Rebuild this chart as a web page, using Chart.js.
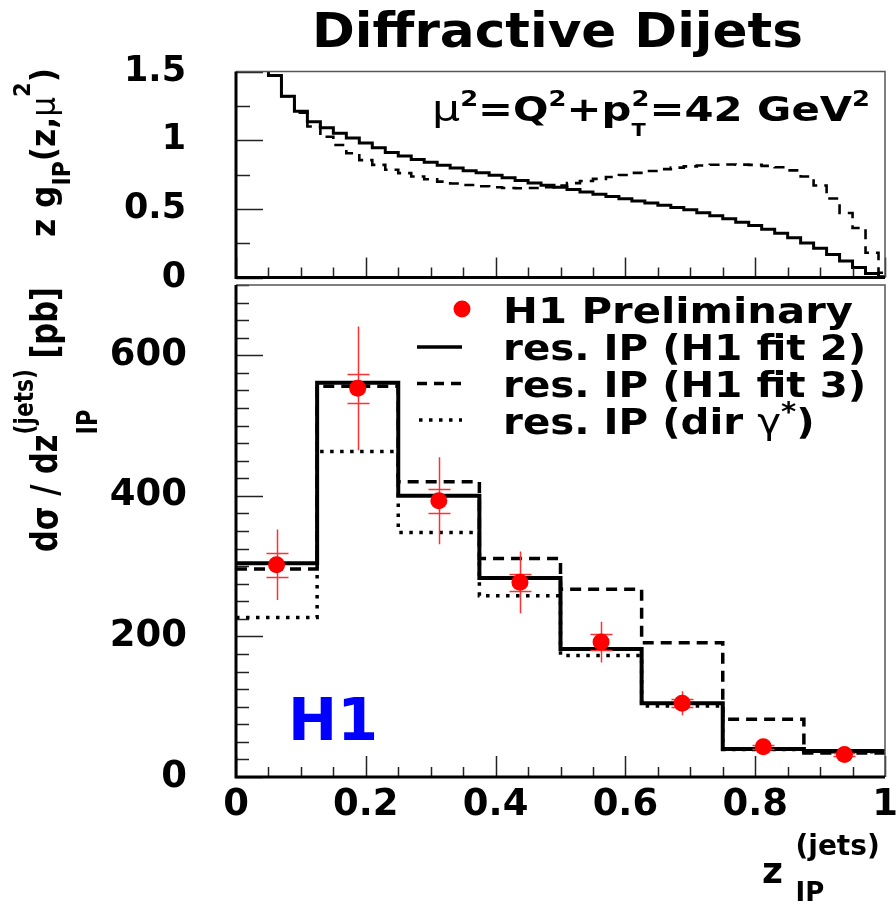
<!DOCTYPE html>
<html>
<head>
<meta charset="utf-8">
<script src="https://cdn.jsdelivr.net/npm/chart.js@4.4.1/dist/chart.umd.min.js"></script>
<style>
  html, body { margin: 0; padding: 0; background: #fff; }
  #wrap { position: relative; width: 896px; height: 904px; }
  #wrap canvas { position: absolute; left: 0; top: 0; }
</style>
</head>
<body>
<div id="wrap">
  <canvas id="top-chart" width="896" height="904"></canvas>
  <canvas id="bottom-chart" width="896" height="904"></canvas>
</div>
<script>
// ===== upper panel: z g_IP(z, mu^2) =====
const zGrid = [0.04, 0.06, 0.08, 0.10, 0.12, 0.14, 0.16, 0.18, 0.20, 0.22,
               0.24, 0.26, 0.28, 0.30, 0.32, 0.34, 0.36, 0.38, 0.40, 0.42,
               0.44, 0.46, 0.48, 0.50, 0.52, 0.54, 0.56, 0.58, 0.60, 0.62,
               0.64, 0.66, 0.68, 0.70, 0.72, 0.74, 0.76, 0.78, 0.80, 0.82,
               0.84, 0.86, 0.88, 0.90, 0.92, 0.94, 0.96, 0.98, 1.00];
const gluonFit2 = [1.62, 1.47, 1.32, 1.21, 1.135, 1.09, 1.05, 1.015, 0.98, 0.945,
                   0.91, 0.885, 0.86, 0.84, 0.818, 0.797, 0.778, 0.762, 0.745, 0.727,
                   0.707, 0.688, 0.672, 0.658, 0.64, 0.622, 0.606, 0.59, 0.573, 0.557,
                   0.542, 0.526, 0.51, 0.493, 0.472, 0.45, 0.427, 0.403, 0.379, 0.352,
                   0.323, 0.29, 0.252, 0.213, 0.168, 0.12, 0.072, 0.03, 0.005];
const gluonFit3 = [1.8, 1.55, 1.32, 1.20, 1.10, 1.025, 0.965, 0.905, 0.855, 0.82,
                   0.785, 0.76, 0.735, 0.715, 0.698, 0.685, 0.674, 0.664, 0.657, 0.652,
                   0.65, 0.652, 0.658, 0.67, 0.687, 0.703, 0.718, 0.732, 0.746, 0.762,
                   0.776, 0.789, 0.80, 0.809, 0.816, 0.821, 0.823, 0.822, 0.82, 0.813,
                   0.803, 0.78, 0.735, 0.67, 0.575, 0.47, 0.36, 0.18, 0.035];

// ===== lower panel: d sigma / d z_IP =====
const binEdges   = [0, 0.125, 0.25, 0.375, 0.5, 0.625, 0.75, 0.875, 1.0];
const binCentres = [0.0625, 0.1875, 0.3125, 0.4375, 0.5625, 0.6875, 0.8125, 0.9375];
const h1Data     = [302, 553, 393, 277, 192, 105, 43, 32];
const statErr    = [17, 21, 17, 12, 11, 6, 3, 2];
const totalErr   = [50, 88, 62, 44, 29, 17, 6, 5];
const resFit2    = [304, 561, 400, 283, 182, 105, 40, 37];
const resFit3    = [296, 556, 420, 311, 267, 191, 82, 34];
const resDirGam  = [227, 463, 348, 258, 173, 101, 39, 36];

const legendLabels = ['H1 Preliminary', 'res. IP (H1 fit 2)', 'res. IP (H1 fit 3)', 'res. IP (dir '];

const FONT = '"DejaVu Sans"';

// -----------------------------------------------
// helpers
// -----------------------------------------------
function curvePoints(xs, ys) {
  return xs.map(function(x, i) { return { x: x, y: ys[i] }; });
}

// histogram outline: one point per edge; with stepped 'before' the value of a
// bin runs from its lower edge to the next edge
function histPoints(edges, values) {
  return edges.map(function(e, i) {
    return { x: e, y: values[Math.min(i, values.length - 1)] };
  });
}

// ROOT style labels: 0, 0.5, 1, 1.5 ...
function plainLabel(v) {
  return String(+Number(v).toFixed(3));
}

// text with sub/superscripts; hold=true keeps the cursor so the next part stacks
function drawRich(ctx, x, y, parts, targetLen, angle, sxFixed) {
  ctx.save();
  ctx.translate(x, y);
  if (angle) ctx.rotate(angle);
  let cursor = 0, held = 0;
  const placed = parts.map(function(p) {
    ctx.font = (p.w || 'bold') + ' ' + p.s + 'px ' + FONT;
    const w = ctx.measureText(p.t).width;
    const at = cursor;
    if (p.hold) { held = w; } else { cursor += Math.max(w, held); held = 0; }
    return { p: p, x: at };
  });
  const sx = sxFixed || (targetLen ? targetLen / cursor : 1);
  ctx.scale(sx, 1);
  ctx.textBaseline = 'alphabetic';
  ctx.textAlign = 'left';
  placed.forEach(function(q) {
    ctx.font = (q.p.w || 'bold') + ' ' + q.p.s + 'px ' + FONT;
    ctx.fillStyle = q.p.c || '#000';
    ctx.fillText(q.p.t, q.x, q.p.dy || 0);
  });
  ctx.restore();
}

function drawFrameAndTicks(chart, cfg) {
  const ctx = chart.ctx;
  const a = chart.chartArea;
  const xs = chart.scales.x, ys = chart.scales.y;
  ctx.save();
  ctx.strokeStyle = '#222';
  ctx.lineWidth = 1.5;
  ctx.beginPath();
  let n = Math.round((xs.max - xs.min) / cfg.xMinor);
  for (let i = 0; i <= n; i++) {
    const v = xs.min + i * cfg.xMinor;
    const major = Math.abs(v / cfg.xMajor - Math.round(v / cfg.xMajor)) < 1e-6;
    const px = Math.round(xs.getPixelForValue(v)) + 0.5;
    ctx.moveTo(px, a.bottom);
    ctx.lineTo(px, a.bottom - (major ? cfg.xMajLen : cfg.xMinLen));
  }
  n = Math.round((ys.max - ys.min) / cfg.yMinor);
  for (let i = 0; i <= n; i++) {
    const v = ys.min + i * cfg.yMinor;
    const major = Math.abs(v / cfg.yMajor - Math.round(v / cfg.yMajor)) < 1e-6;
    const py = Math.round(ys.getPixelForValue(v)) + 0.5;
    ctx.moveTo(a.left, py);
    ctx.lineTo(a.left + (major ? cfg.yMajLen : cfg.yMinLen), py);
  }
  ctx.stroke();

  // thin top / right frame
  ctx.strokeStyle = '#555';
  ctx.lineWidth = 1.5;
  ctx.beginPath();
  ctx.moveTo(a.left, a.top);
  ctx.lineTo(a.right, a.top);
  ctx.lineTo(a.right, a.bottom);
  ctx.stroke();
  // thick left / bottom axes
  ctx.strokeStyle = '#000';
  ctx.lineWidth = 3;
  ctx.beginPath();
  ctx.moveTo(a.left, a.top);
  ctx.lineTo(a.left, a.bottom);
  ctx.lineTo(a.right, a.bottom);
  ctx.stroke();
  ctx.restore();
}

function tickFont(size) {
  return { family: FONT, size: size, weight: 'bold' };
}

// -----------------------------------------------
// upper panel
// -----------------------------------------------
const topPlugin = {
  id: 'topDecor',
  afterDatasetsDraw: function(chart) {
    drawFrameAndTicks(chart, { xMinor: 0.05, xMajor: 0.2, xMajLen: 20, xMinLen: 10,
                               yMinor: 0.25, yMajor: 0.5, yMajLen: 27, yMinLen: 14 });
  },
  afterDraw: function(chart) {
    const ctx = chart.ctx;
    drawRich(ctx, 312, 47, [{ t: 'Diffractive Dijets', s: 48 }], 491);
    drawRich(ctx, 432, 121, [
      { t: 'μ', s: 36, w: 'normal' }, { t: '2', s: 21, dy: -15 },
      { t: '=Q', s: 34 }, { t: '2', s: 21, dy: -15 },
      { t: '+p', s: 34 }, { t: '2', s: 21, dy: -15, hold: true }, { t: 'T', s: 17, dy: 15 },
      { t: '=42 GeV', s: 34 }, { t: '2', s: 21, dy: -15 }
    ], 438);
    drawRich(ctx, 55, 237, [
      { t: 'z g', s: 34 }, { t: 'IP', s: 24, dy: 15 },
      { t: '(z,', s: 34 }, { t: 'μ', s: 34, w: 'normal' }, { t: '2', s: 23, dy: -25 },
      { t: ')', s: 34 }
    ], 169, -Math.PI / 2);
  }
};

new Chart(document.getElementById('top-chart').getContext('2d'), {
  type: 'line',
  data: {
    datasets: [
      {
        label: 'H1 fit 2',
        data: curvePoints(zGrid, gluonFit2),
        stepped: 'middle',
        borderColor: '#000',
        borderWidth: 3,
        pointRadius: 0,
        fill: false
      },
      {
        label: 'H1 fit 3',
        data: curvePoints(zGrid, gluonFit3),
        stepped: 'middle',
        borderColor: '#000',
        borderWidth: 2.6,
        borderDash: [10, 7],
        pointRadius: 0,
        fill: false
      }
    ]
  },
  options: {
    responsive: false,
    animation: false,
    devicePixelRatio: 1,
    layout: { padding: { left: 0, right: 11, top: 71.5, bottom: 904 - 277.5 } },
    plugins: { legend: { display: false }, tooltip: { enabled: false } },
    scales: {
      x: { type: 'linear', min: 0, max: 1, display: false },
      y: {
        min: 0, max: 1.5,
        border: { display: false },
        grid: { drawOnChartArea: false, drawTicks: false },
        ticks: { stepSize: 0.5, color: '#000', font: tickFont(35), padding: 50,
                 callback: plainLabel },
        afterFit: function(scale) {
          scale.width = 236;
          scale.paddingTop = 0;
          scale.paddingBottom = 0;
        }
      }
    }
  },
  plugins: [topPlugin]
});

// -----------------------------------------------
// lower panel
// -----------------------------------------------
const bottomPlugin = {
  id: 'bottomDecor',
  beforeDatasetDraw: function(chart, args) {
    if (args.index !== 0) return;
    const ctx = chart.ctx;
    const xs = chart.scales.x, ys = chart.scales.y;
    ctx.save();
    ctx.strokeStyle = '#ff3030';
    ctx.lineWidth = 1.5;
    ctx.beginPath();
    binCentres.forEach(function(c, i) {
      const px = Math.round(xs.getPixelForValue(c)) + 0.5;
      ctx.moveTo(px, ys.getPixelForValue(h1Data[i] + totalErr[i]));
      ctx.lineTo(px, ys.getPixelForValue(h1Data[i] - totalErr[i]));
      [h1Data[i] + statErr[i], h1Data[i] - statErr[i]].forEach(function(v) {
        const py = Math.round(ys.getPixelForValue(v)) + 0.5;
        ctx.moveTo(px - 11, py);
        ctx.lineTo(px + 11, py);
      });
    });
    ctx.stroke();
    ctx.restore();
  },
  afterDatasetsDraw: function(chart) {
    drawFrameAndTicks(chart, { xMinor: 0.05, xMajor: 0.2, xMajLen: 21, xMinLen: 10,
                               yMinor: 25, yMajor: 200, yMajLen: 27, yMinLen: 13 });
  },
  afterDraw: function(chart) {
    const ctx = chart.ctx;
    const sx = 1.12;

    // legend
    ctx.save();
    ctx.fillStyle = '#ff0000';
    ctx.beginPath();
    ctx.arc(462, 309, 8.5, 0, Math.PI * 2);
    ctx.fill();
    ctx.strokeStyle = '#000';
    ctx.lineWidth = 3.5;
    ctx.beginPath();
    ctx.moveTo(417, 347); ctx.lineTo(462, 347);
    ctx.stroke();
    ctx.setLineDash([10, 7]);
    ctx.beginPath();
    ctx.moveTo(417, 383.5); ctx.lineTo(462, 383.5);
    ctx.stroke();
    ctx.setLineDash([3.5, 6.5]);
    ctx.beginPath();
    ctx.moveTo(419, 420); ctx.lineTo(462, 420);
    ctx.stroke();
    ctx.restore();

    drawRich(ctx, 503, 323, [{ t: legendLabels[0], s: 36 }], 350);
    drawRich(ctx, 503, 360, [{ t: legendLabels[1], s: 36 }], 0, 0, sx);
    drawRich(ctx, 503, 397, [{ t: legendLabels[2], s: 36 }], 0, 0, sx);
    drawRich(ctx, 503, 434, [
      { t: legendLabels[3], s: 36 }, { t: 'γ', s: 36, w: 'normal' },
      { t: '*', s: 26, dy: -13 }, { t: ')', s: 36 }
    ], 0, 0, sx);

    // H1 logo
    drawRich(ctx, 288, 740, [{ t: 'H1', s: 59, c: '#0000ff' }], 90);

    // axis titles
    drawRich(ctx, 57, 552, [
      { t: 'dσ / dz', s: 38 }, { t: 'IP', s: 28, dy: 40, hold: true },
      { t: '(jets)', s: 27, dy: -24 }, { t: ' [pb]', s: 38 }
    ], 265, -Math.PI / 2);
    drawRich(ctx, 762, 883, [
      { t: 'z ', s: 36 }, { t: 'IP', s: 26, dy: 18, hold: true },
      { t: '(jets)', s: 28, dy: -28 }
    ]);
  }
};

new Chart(document.getElementById('bottom-chart').getContext('2d'), {
  type: 'line',
  data: {
    datasets: [
      {
        label: legendLabels[0],
        data: curvePoints(binCentres, h1Data),
        showLine: false,
        pointRadius: 8.5,
        pointBackgroundColor: '#ff0000',
        pointBorderWidth: 0
      },
      {
        label: legendLabels[1],
        data: histPoints(binEdges, resFit2),
        stepped: 'before',
        borderColor: '#000',
        borderWidth: 4,
        pointRadius: 0
      },
      {
        label: legendLabels[2],
        data: histPoints(binEdges, resFit3),
        stepped: 'before',
        borderColor: '#000',
        borderWidth: 3.5,
        borderDash: [11, 7],
        pointRadius: 0
      },
      {
        label: legendLabels[3] + 'γ*)',
        data: histPoints(binEdges, resDirGam),
        stepped: 'before',
        borderColor: '#000',
        borderWidth: 3.5,
        borderDash: [3.5, 6.5],
        pointRadius: 0
      }
    ]
  },
  options: {
    responsive: false,
    animation: false,
    devicePixelRatio: 1,
    layout: { padding: { left: 0, right: 11, top: 285, bottom: 0 } },
    plugins: { legend: { display: false }, tooltip: { enabled: false } },
    scales: {
      x: {
        type: 'linear', min: 0, max: 1,
        border: { display: false },
        grid: { drawOnChartArea: false, drawTicks: false },
        ticks: { stepSize: 0.2, autoSkip: false, maxRotation: 0, color: '#000',
                 font: tickFont(37), padding: 6, callback: plainLabel },
        afterFit: function(scale) {
          scale.height = 904 - 777;
          scale.paddingLeft = 0;
          scale.paddingRight = 0;
        }
      },
      y: {
        min: 0, max: 700,
        border: { display: false },
        grid: { drawOnChartArea: false, drawTicks: false },
        ticks: { stepSize: 200, includeBounds: false, color: '#000',
                 font: tickFont(37), padding: 49, callback: plainLabel },
        afterFit: function(scale) {
          scale.width = 236;
          scale.paddingTop = 0;
          scale.paddingBottom = 0;
        }
      }
    }
  },
  plugins: [bottomPlugin]
});
</script>
</body>
</html>
